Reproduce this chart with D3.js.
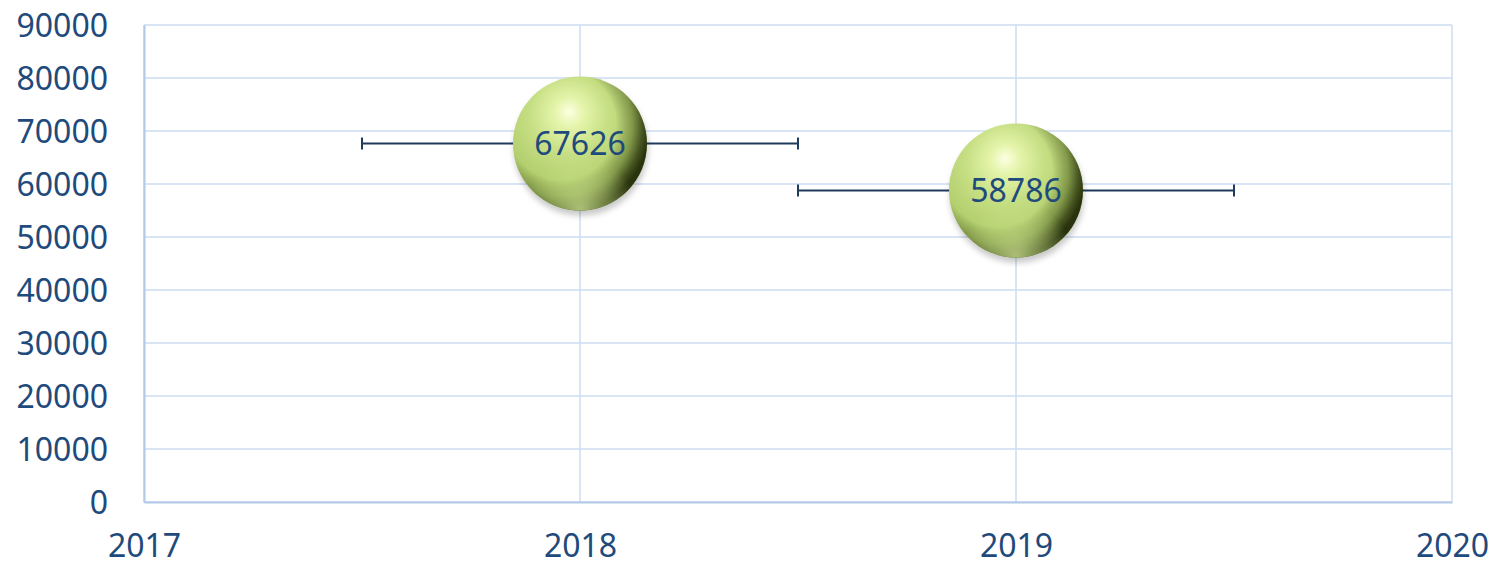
<!DOCTYPE html>
<html>
<head>
<meta charset="utf-8">
<script src="https://cdn.jsdelivr.net/npm/d3@7"></script>
<style>
    body { margin: 0; background: #fff; }
    svg text { font-family: "Noto Sans", "Liberation Sans", sans-serif; fill: #1f4a7c; }
</style>
</head>
<body>
<svg id="chart" width="1494" height="565"></svg>
<script>
var years = [2018, 2019];
var values = [67626, 58786];
var bubbleSizes = [1, 1];
var xErrors = [0.5, 0.5];
var xTicks = [2017, 2018, 2019, 2020];
var yTicks = [0, 10000, 20000, 30000, 40000, 50000, 60000, 70000, 80000, 90000];

var margin = {left: 144, right: 42, top: 25, bottom: 63},
    width = 1494 - margin.left - margin.right,
    height = 565 - margin.top - margin.bottom;

var svg = d3.select('#chart');
var defs = svg.append('defs');

function addRadial(id, attrs, stops) {
    var grad = defs.append('radialGradient').attr('id', id);
    Object.keys(attrs).forEach(function(k) { grad.attr(k, attrs[k]); });
    stops.forEach(function(s) {
        grad.append('stop').attr('offset', s[0]).attr('stop-color', s[1]).attr('stop-opacity', s[2] === undefined ? 1 : s[2]);
    });
}

// sphere look: light body, dark rim towards the right and bottom, a soft reflection at the bottom
addRadial('sphereBase', {cx: '42%', cy: '32%', r: '70%', fx: '42%', fy: '26%'}, [
    ['0%', '#fdffe2'],
    ['16%', '#e4f4aa'],
    ['42%', '#c6df84'],
    ['70%', '#b3cf6e'],
    ['100%', '#a5c35f']
]);
addRadial('sphereShade', {cx: '36%', cy: '36%', r: '66%'}, [
    ['0%', '#2a340d', 0],
    ['62%', '#2a340d', 0],
    ['80%', '#3a4815', 0.4],
    ['92%', '#2f3a10', 0.82],
    ['100%', '#222b08', 0.95]
]);
addRadial('sphereGlow', {cx: '50%', cy: '100%', r: '42%'}, [
    ['0%', '#d6ec98', 0.75],
    ['55%', '#c8e188', 0.4],
    ['100%', '#c8e188', 0]
]);

var shadow = defs.append('filter').attr('id', 'shadow')
        .attr('x', '-30%').attr('y', '-30%').attr('width', '160%').attr('height', '160%');
shadow.append('feGaussianBlur').attr('stdDeviation', 3);

var g = svg.append('g').attr('transform', 'translate(' + margin.left + ',' + margin.top + ')');

var x = d3.scaleLinear().domain([2017, 2020]).range([0, width]);
var y = d3.scaleLinear().domain([0, 90000]).range([height, 0]);
var r = d3.scaleSqrt().domain([0, 1]).range([0, 67]);

// gridlines
g.append('g').selectAll('line').data(yTicks).enter().append('line')
        .attr('x1', 0).attr('x2', width)
        .attr('y1', function(d) { return y(d); })
        .attr('y2', function(d) { return y(d); })
        .attr('stroke', '#cddcf0').attr('stroke-width', 1.5);

g.append('g').selectAll('line').data(xTicks).enter().append('line')
        .attr('y1', 0).attr('y2', height)
        .attr('x1', function(d) { return x(d); })
        .attr('x2', function(d) { return x(d); })
        .attr('stroke', '#cddcf0').attr('stroke-width', 1.5);

// axes
var yAxis = g.append('g')
        .call(d3.axisLeft(y).tickValues(yTicks).tickSize(0).tickPadding(36).tickFormat(d3.format('d')));
yAxis.select('.domain').attr('stroke', '#b3c9e8').attr('stroke-width', 2);
yAxis.selectAll('text').style('font-size', '32px').attr('dy', '0.35em');

var xAxis = g.append('g').attr('transform', 'translate(0,' + height + ')')
        .call(d3.axisBottom(x).tickValues(xTicks).tickSize(0).tickPadding(32).tickFormat(d3.format('d')));
xAxis.select('.domain').attr('stroke', '#b3c9e8').attr('stroke-width', 2);
xAxis.selectAll('text').style('font-size', '32px');

var points = years.map(function(d, i) {
    return {year: d, value: values[i], size: bubbleSizes[i], err: xErrors[i]};
});

// error bars
var bars = g.append('g').selectAll('g').data(points).enter().append('g');
bars.append('line')
        .attr('x1', function(d) { return x(d.year - d.err); })
        .attr('x2', function(d) { return x(d.year + d.err); })
        .attr('y1', function(d) { return y(d.value); })
        .attr('y2', function(d) { return y(d.value); })
        .attr('stroke', '#203a5c').attr('stroke-width', 2);
[-1, 1].forEach(function(sgn) {
    bars.append('line')
            .attr('x1', function(d) { return x(d.year + sgn * d.err); })
            .attr('x2', function(d) { return x(d.year + sgn * d.err); })
            .attr('y1', function(d) { return y(d.value) - 6; })
            .attr('y2', function(d) { return y(d.value) + 6; })
            .attr('stroke', '#203a5c').attr('stroke-width', 2);
});

// bubbles
var bubbles = g.append('g').selectAll('g').data(points).enter().append('g')
        .attr('transform', function(d) { return 'translate(' + x(d.year) + ',' + y(d.value) + ')'; });
bubbles.append('circle')
        .attr('cx', 1).attr('cy', 5)
        .attr('r', function(d) { return r(d.size); })
        .attr('fill', '#000').attr('opacity', 0.22)
        .attr('filter', 'url(#shadow)');
['sphereBase', 'sphereShade', 'sphereGlow'].forEach(function(id) {
    bubbles.append('circle')
            .attr('r', function(d) { return r(d.size); })
            .attr('fill', 'url(#' + id + ')');
});
bubbles.append('text')
        .attr('text-anchor', 'middle')
        .attr('dy', '0.36em')
        .style('font-size', '32px')
        .text(function(d) { return d.value; });
</script>
</body>
</html>
